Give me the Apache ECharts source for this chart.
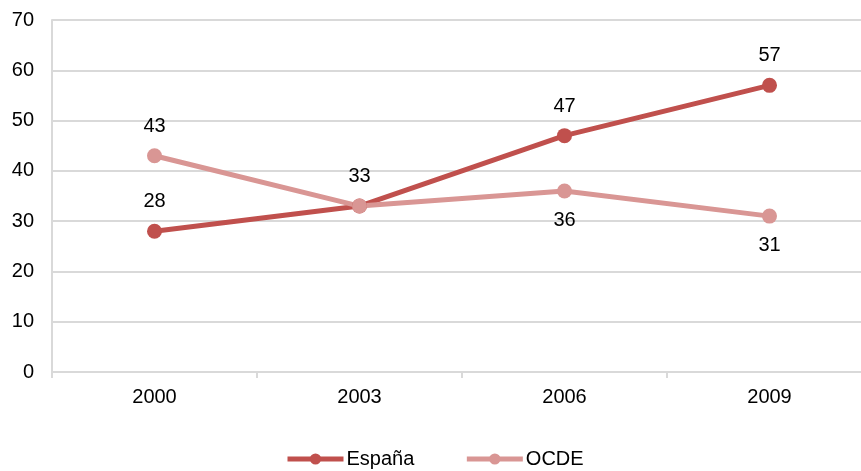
<!DOCTYPE html>
<html><head><meta charset="utf-8">
<script src="https://cdn.jsdelivr.net/npm/echarts@6/dist/echarts.min.js"></script>
<style>html,body{margin:0;padding:0;background:#fff;overflow:hidden;width:861px;height:471px}#c{width:880px;height:471px}</style>
</head><body><div id="c"></div>
<script>
var categories = ['2000','2003','2006','2009'];
var espana = [28,33,47,57];
var ocde = [43,33,36,31];
var espanaLabelPos = ['top','top','top','top'];
var ocdeLabelPos = ['top',null,'bottom','bottom'];

var font = 'Liberation Sans, Arial, sans-serif';
function mkData(vals, pos){
  return vals.map(function(v,i){
    var d = {value:v};
    if(pos[i]===null){ d.label={show:false}; }
    else d.label={position:pos[i]};
    return d;
  });
}
var chart = echarts.init(document.getElementById('c'));
chart.setOption({
  animation:false,
  grid:{left:52, top:20, width:820, height:352, containLabel:false},
  legend:{bottom:2, left:285, padding:0, itemWidth:56, itemHeight:14, itemGap:50,
    lineStyle:{width:5},
    textStyle:{fontFamily:font,fontSize:20,color:'#000',padding:[0,0,0,-2]},
    data:['España','OCDE']},
  xAxis:{type:'category', data:categories, boundaryGap:true,
    axisLine:{lineStyle:{color:'#d9d9d9',width:2}},
    axisTick:{show:true,length:6,lineStyle:{color:'#d9d9d9',width:2}},
    axisLabel:{fontFamily:font,fontSize:20,color:'#000',margin:15}},
  yAxis:{type:'value', min:0, max:70, interval:10,
    axisLine:{show:true,lineStyle:{color:'#d9d9d9',width:2}},
    axisTick:{show:false},
    splitLine:{lineStyle:{color:'#d9d9d9',width:2}},
    axisLabel:{fontFamily:font,fontSize:20,color:'#000',margin:18}},
  series:[
    {name:'España', type:'line', data:mkData(espana,espanaLabelPos), color:'#c0504d',
      lineStyle:{width:5,color:'#c0504d'}, symbol:'circle', symbolSize:15,
      itemStyle:{color:'#c0504d'},
      label:{show:true,distance:12,fontFamily:font,fontSize:20,color:'#000'}},
    {name:'OCDE', type:'line', data:mkData(ocde,ocdeLabelPos), color:'#d99694',
      lineStyle:{width:5,color:'#d99694'}, symbol:'circle', symbolSize:15,
      itemStyle:{color:'#d99694'},
      label:{show:true,distance:12,fontFamily:font,fontSize:20,color:'#000'}}
  ]
});
</script></body></html>
